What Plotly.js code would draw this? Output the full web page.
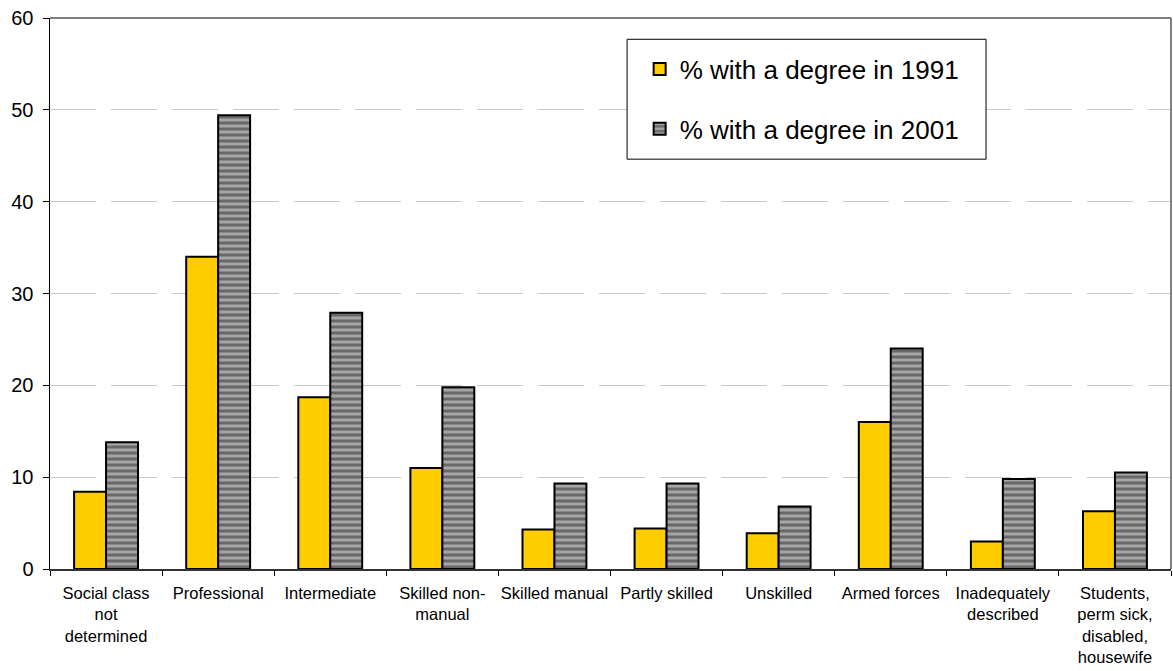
<!DOCTYPE html>
<html>
<head>
<meta charset="utf-8">
<script src="https://cdn.plot.ly/plotly-3.0.1.min.js"></script>
<style>
  html, body { margin: 0; padding: 0; background: #ffffff; }
  #chart { width: 1173px; height: 671px; }
</style>
</head>
<body>
<div id="chart"></div>
<script>
// Social class categories (line breaks as shown under the axis)
const categories = [
  "Social class<br>not<br>determined",
  "Professional",
  "Intermediate",
  "Skilled non-<br>manual",
  "Skilled manual",
  "Partly skilled",
  "Unskilled",
  "Armed forces",
  "Inadequately<br>described",
  "Students,<br>perm sick,<br>disabled,<br>housewife"
];

// Share of people with a degree, per social class
const degree1991 = [8.4, 34.0, 18.7, 11.0, 4.3, 4.4, 3.9, 16.0, 3.0, 6.3];
const degree2001 = [13.8, 49.4, 27.9, 19.8, 9.3, 9.3, 6.8, 24.0, 9.8, 10.5];

const seriesNames = ["% with a degree in 1991", "% with a degree in 2001"];
const yTicks = [0, 10, 20, 30, 40, 50, 60];

const FONT = "Liberation Sans, Arial, Helvetica, sans-serif";

const traces = [
  {
    type: "bar",
    name: seriesNames[0],
    legendgroup: "a",
    x: categories,
    y: degree1991,
    marker: { color: "#FFCC00", line: { color: "#000000", width: 2 } },
    hoverinfo: "x+y"
  },
  {
    type: "bar",
    name: seriesNames[1],
    legendgroup: "b",
    x: categories,
    y: degree2001,
    marker: {
      color: "#a2a2a2",
      line: { color: "#000000", width: 2 },
      pattern: {
        shape: "-",
        fillmode: "replace",
        bgcolor: "#a6a6a6",
        fgcolor: "#686868",
        size: 6,
        solidity: 0.5
      }
    },
    hoverinfo: "x+y"
  }
];

const layout = {
  width: 1173,
  height: 671,
  margin: { l: 50, r: 2, t: 18, b: 102 },
  paper_bgcolor: "#ffffff",
  plot_bgcolor: "#ffffff",
  font: { family: FONT, color: "#000000" },
  barmode: "group",
  bargap: 0.43,
  bargroupgap: 0,
  showlegend: true,
  legend: {
    x: 0.526,
    xanchor: "left",
    y: 0.95,
    yanchor: "top",
    bgcolor: "rgba(0,0,0,0)",
    borderwidth: 0,
    font: { family: FONT, size: 26, color: "#000000" },
    tracegroupgap: 23,
    traceorder: "grouped"
  },
  xaxis: {
    type: "category",
    tickson: "boundaries",
    tickangle: 0,
    ticks: "outside",
    ticklen: 5,
    tickwidth: 1,
    tickcolor: "#000000",
    showline: true,
    linecolor: "#333333",
    linewidth: 2,
    showgrid: false,
    zeroline: false,
    tickfont: { family: FONT, size: 16.5, color: "#000000" },
    ticklabelstandoff: 8,
    fixedrange: true
  },
  yaxis: {
    range: [0, 60],
    tickvals: yTicks,
    ticktext: yTicks.map(String),
    ticks: "outside",
    ticklen: 6,
    tickwidth: 1,
    tickcolor: "#000000",
    showline: true,
    linecolor: "#000000",
    linewidth: 1.5,
    showgrid: true,
    gridcolor: "#c8c8c8",
    gridwidth: 1,
    griddash: "46px,15px",
    zeroline: false,
    tickfont: { family: FONT, size: 20, color: "#000000" },
    ticklabelstandoff: 5,
    fixedrange: true
  },
  shapes: [
    // plot area frame: top and right edges
    { type: "line", xref: "paper", yref: "paper", x0: 0, x1: 1, y0: 1, y1: 1,
      line: { color: "#808080", width: 2 }, layer: "above" },
    { type: "line", xref: "paper", yref: "paper", x0: 1, x1: 1, y0: 0, y1: 1,
      line: { color: "#808080", width: 2 }, layer: "above" },
    // legend box
    { type: "rect", xref: "paper", yref: "paper",
      x0: 0.5148, x1: 0.8350, y0: 0.7438, y1: 0.9614,
      fillcolor: "#ffffff", line: { color: "#000000", width: 1 }, layer: "above" }
  ]
};

Plotly.newPlot("chart", traces, layout, { displayModeBar: false, staticPlot: true });
</script>
</body>
</html>
